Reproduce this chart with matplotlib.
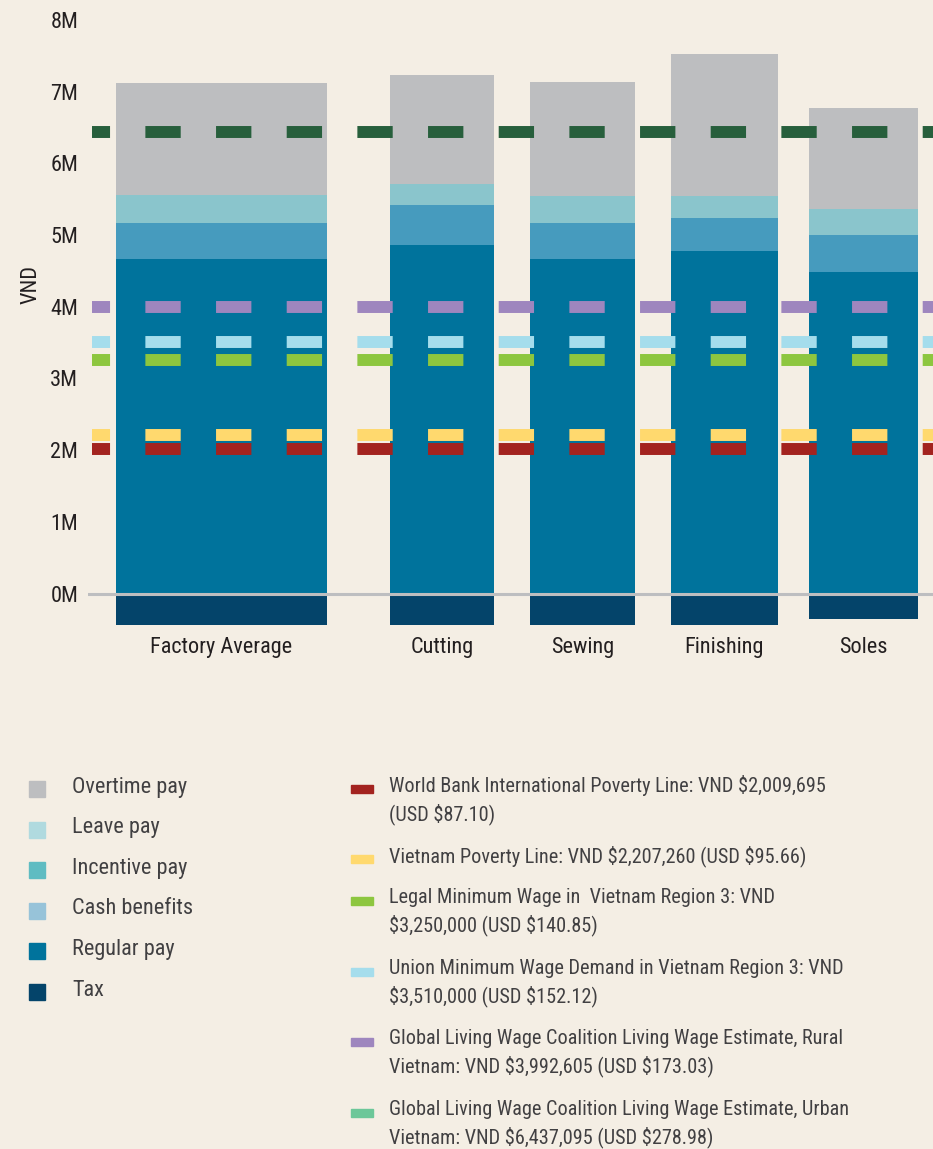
import matplotlib
matplotlib.use("Agg")
from matplotlib import pyplot as plt
from matplotlib import font_manager
from matplotlib.font_manager import FontProperties
from matplotlib.patches import Rectangle

# the original uses a condensed sans; pick one if installed
font_family = None
for fam in ["Roboto Condensed", "Liberation Sans Narrow", "Open Sans Condensed", "Noto Sans Condensed"]:
    try:
        font_manager.findfont(FontProperties(family=fam), fallback_to_default=False)
        font_family = fam
        break
    except ValueError:
        pass
font_stretch = "normal"
if font_family is None:
    for fam in ["Roboto", "Noto Sans", "Open Sans", "DejaVu Sans"]:
        path = font_manager.findfont(FontProperties(family=fam, stretch="condensed"))
        if "ondensed" in path:
            font_family = fam
            font_stretch = "condensed"
            break
if font_family is None:
    font_family = "Liberation Sans"
    fs, fs_ref = 13.5, 12.5
else:
    fs, fs_ref = 16, 14.6

plt.rcParams['font.family'] = [font_family, 'DejaVu Sans']
plt.rcParams['font.stretch'] = font_stretch
plt.rcParams['lines.scale_dashes'] = False

# data (VND millions)
categories = ["Factory Average", "Cutting", "Sewing", "Finishing", "Soles"]
regular_pay = [4.67, 4.86, 4.67, 4.78, 4.48]
cash_benefits = [0.50, 0.56, 0.50, 0.46, 0.52]
incentive_pay = [0.39, 0.29, 0.38, 0.31, 0.36]
overtime_pay = [1.56, 1.52, 1.58, 1.97, 1.41]
tax = [-0.44, -0.44, -0.44, -0.44, -0.36]

ref_values = [2.009695, 2.207260, 3.250000, 3.510000, 3.992605, 6.437095]
ref_chart_colors = ["#A3231F", "#FFD96E", "#8DC63F", "#A5DDEC", "#9E86BE", "#275F3C"]
ref_legend_colors = ["#A3231F", "#FFD96E", "#8DC63F", "#A5DDEC", "#9E86BE", "#6CC799"]
ref_labels = [
    "World Bank International Poverty Line: VND $2,009,695\n(USD $87.10)",
    "Vietnam Poverty Line: VND $2,207,260 (USD $95.66)",
    "Legal Minimum Wage in  Vietnam Region 3: VND\n$3,250,000 (USD $140.85)",
    "Union Minimum Wage Demand in Vietnam Region 3: VND\n$3,510,000 (USD $152.12)",
    "Global Living Wage Coalition Living Wage Estimate, Rural\nVietnam: VND $3,992,605 (USD $173.03)",
    "Global Living Wage Coalition Living Wage Estimate, Urban\nVietnam: VND $6,437,095 (USD $278.98)",
]

pay_labels = ["Overtime pay", "Leave pay", "Incentive pay", "Cash benefits", "Regular pay", "Tax"]
pay_legend_colors = ["#BDBEC0", "#B0DADF", "#5FBCC2", "#97C3D9", "#00739C", "#04446A"]

# layout
positions = [-1.57, 0, 1, 2.01, 3.0]
widths = [1.5, 0.74, 0.75, 0.76, 0.78]
bg = "#F4EEE4"
txt = "#231F20"

W, H = 933, 1149
fig = plt.figure(figsize=(W / 100, H / 100), dpi=100, facecolor=bg)
ax = fig.add_axes([88 / W, 1 - 630 / H, 1 - 88 / W, 620 / H])
ax.set_facecolor(bg)
ax.set_xlim(-2.5196, 3.4947)
ax.set_ylim((593.5 - 630) / 71.7, (593.5 - 10) / 71.7)

bottom = [0] * 5
for vals, col in [(regular_pay, "#00739C"), (cash_benefits, "#469BBE"),
                  (incentive_pay, "#8AC5CC"), (overtime_pay, "#BDBEC0")]:
    ax.bar(positions, vals, width=widths, bottom=bottom, color=col, zorder=2)
    bottom = [b + v for b, v in zip(bottom, vals)]
ax.bar(positions, tax, width=widths, color="#04446A", zorder=2)

ax.axhline(0, color="#BDBEC0", lw=2.2, zorder=3)

# reference lines, dashed
x0 = -2.491
for v, col in zip(ref_values, ref_chart_colors):
    ax.plot([x0, 3.4947], [v, v], color=col, lw=8.6, solid_capstyle='butt',
            dash_capstyle='butt', linestyle=(12.45, (25.44, 25.44)), zorder=4)

ax.set_yticks(range(9))
ax.set_yticklabels([f"{i}M" for i in range(9)], fontsize=fs, color=txt)
ax.set_xticks(positions)
ax.set_xticklabels(categories, fontsize=fs, color=txt)
ax.tick_params(axis='y', length=0, pad=7)
ax.tick_params(axis='x', length=0, pad=5)
for s in ax.spines.values():
    s.set_visible(False)

fig.text(31 / W, 1 - 285 / H, "VND", rotation=90, ha='center', va='center',
         fontsize=fs, color=txt)

# legend drawn in pixel space
lg = fig.add_axes([0, 0, 1, 1])
lg.set_xlim(0, W)
lg.set_ylim(H, 0)
lg.axis('off')
lg.patch.set_alpha(0)

for i, (lab, col) in enumerate(zip(pay_labels, pay_legend_colors)):
    y = 789 + i * 40.6
    lg.add_patch(Rectangle((29, y - 8), 16, 16, color=col))
    lg.text(72, y - 2, lab, fontsize=fs, color="#414042", va='center')

ref_y = [789, 859, 901, 972, 1042, 1113]
for y, lab, col in zip(ref_y, ref_labels, ref_legend_colors):
    lg.add_patch(Rectangle((351, y - 4), 22, 8, color=col))
    lg.text(389, y - 3 + (14 if "\n" in lab else 0), lab, fontsize=fs_ref, color="#414042",
            va='center', linespacing=1.45, parse_math=False)

fig.savefig("out.png", dpi=100, facecolor=bg)
